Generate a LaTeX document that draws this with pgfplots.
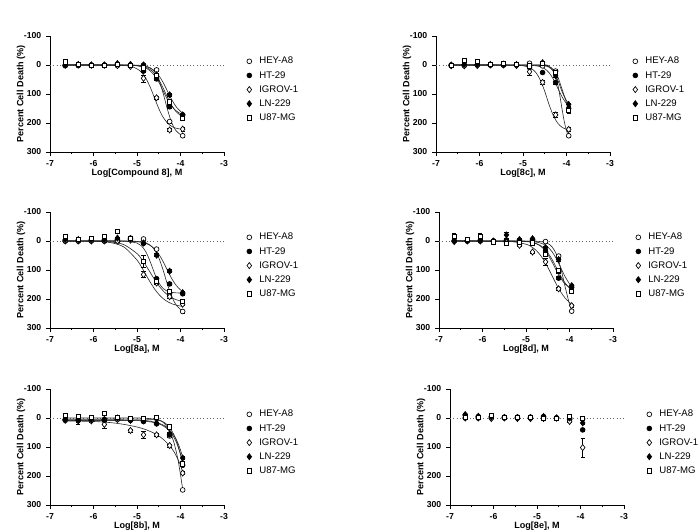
\documentclass[border=0pt]{standalone}
\usepackage{fontspec}
\setmainfont{Liberation Sans}
\usepackage{pgfplots}
\usepackage{pgfplotstable}
\pgfplotsset{compat=1.18}

% columns: a=HEY-A8, b=HT-29, c=IGROV-1, d=LN-229, e=U87-MG (value, error)
\pgfplotstableread{
x a ae b be c ce d de e ee
-6.65 2 3 2 3 0 3 0 3 -11 5
-6.35 0 3 2 3 0 3 -2 3 -2 3
-6.05 0 3 2 3 0 3 0 3 0 3
-5.75 0 3 2 3 0 3 0 3 0 3
-5.45 2 3 0 3 2 3 -5 5 -3 3
-5.15 2 3 0 3 5 3 -2 3 0 3
-4.85 0 3 21 5 46 12 0 3 10 5
-4.55 17 5 48 6 113 5 34 6 35 6
-4.25 195 6 144 6 224 6 103 5 127 8
-3.95 244 5 172 6 221 6 172 5 184 5
}\tEight
\pgfplotstableread{
x a ae b be c ce d de e ee
-6.65 2 3 0 3 3 3 0 3 0 3
-6.35 2 3 0 3 3 3 -2 3 -15 8
-6.05 0 3 0 3 2 3 -2 3 -13 8
-5.75 0 3 0 3 0 3 -2 3 -3 3
-5.45 0 3 0 3 0 3 -3 3 -6 3
-5.15 0 3 0 3 2 3 -2 3 -2 3
-4.85 -6 3 9 3 23 12 5 3 3 3
-4.55 3 3 26 4 60 8 -8 3 -6 3
-4.25 21 5 60 5 172 8 37 5 25 8
-3.95 244 5 150 6 222 6 136 5 157 8
}\tC
\pgfplotstableread{
x a ae b be c ce d de e ee
-6.65 0 3 0 3 0 3 -5 3 -15 8
-6.35 0 3 0 3 0 3 -5 3 -7 3
-6.05 0 3 -2 3 0 3 -5 3 -9 3
-5.75 0 3 0 3 0 3 -5 3 -15 3
-5.45 0 3 -5 3 0 3 -10 3 -33 5
-5.15 -5 3 -10 3 -3 3 -8 8 -10 3
-4.85 -7 3 8 4 116 10 7 4 69 20
-4.55 28 4 130 5 145 5 49 5 139 5
-4.25 180 5 148 5 192 5 104 5 174 5
-3.95 243 5 182 5 218 5 178 5 209 5
}\tA
\pgfplotstableread{
x a ae b be c ce d de e ee
-6.65 0 3 0 3 2 3 0 3 -17 8
-6.35 0 3 0 3 0 3 -2 3 -5 3
-6.05 0 3 -2 3 0 3 -3 3 -15 10
-5.75 0 3 0 3 2 3 0 3 3 3
-5.45 0 3 -3 3 5 3 -21 10 9 3
-5.15 10 3 -3 3 15 3 -5 3 5 3
-4.85 -3 3 -5 3 38 4 -8 3 6 3
-4.55 2 3 37 5 72 12 23 5 47 5
-4.25 52 5 128 5 165 5 64 5 102 8
-3.95 242 5 160 5 223 5 154 5 174 5
}\tD
\pgfplotstableread{
x a ae b be c ce d de e ee
-6.65 5 3 8 3 8 3 5 3 -10 3
-6.35 5 3 8 12 10 3 8 3 -5 3
-6.05 5 3 8 3 10 3 5 3 -2 3
-5.75 5 3 8 3 22 12 5 3 -15 3
-5.45 2 3 5 3 5 3 0 3 -2 3
-5.15 5 3 8 3 43 5 8 3 0 3
-4.85 10 3 12 3 58 12 10 3 0 3
-4.55 2 3 20 3 58 4 18 3 -2 3
-4.25 62 5 58 5 95 5 55 5 30 8
-3.95 248 5 163 5 190 5 138 5 158 5
}\tB
\pgfplotstableread{
x a ae b be c ce d de e ee
-6.65 0 3 -10 3 0 3 -12 3 -3 3
-6.35 0 3 -5 3 0 3 -6 3 -3 3
-6.05 0 3 -5 3 2 3 -3 3 -8 3
-5.75 0 3 -3 3 0 3 -2 3 -3 3
-5.45 0 3 -3 3 2 3 -2 3 -3 3
-5.15 0 3 -3 3 2 3 -2 3 -3 3
-4.85 0 3 -5 3 2 3 -5 3 2 5
-4.55 0 3 0 3 0 3 0 3 0 3
-4.25 5 3 0 3 12 3 0 3 -5 3
-3.95 3 3 41 4 102 32 17 4 2 3
}\tE

\pgfplotsset{
  panel/.style={
    scale only axis, width=130.5pt, height=87pt,
    xmin=-7, xmax=-3, ymin=-100, ymax=300, y dir=reverse,
    axis x line*=bottom, axis y line*=left,
    axis line style={line width=0.6pt, -},
    xtick={-7,-6,-5,-4,-3}, ytick={-100,0,100,200,300},
    minor x tick num=1,
    tick align=outside, major tick length=3pt, minor tick length=1.8pt,
    tick style={line width=0.6pt, black},
    /pgf/number format/assume math mode=true,
    ticklabel style={font=\bfseries\fontsize{6.5}{7}\selectfont},
    ylabel={Percent Cell Death (\%)},
    y label style={font=\bfseries\fontsize{6.8}{8}\selectfont, at={(axis description cs:-0.167,0.5)}, anchor=center},
    x label style={font=\bfseries\fontsize{6.8}{8}\selectfont, at={(axis description cs:0.5,0)}, anchor=center, yshift=-15.75pt},
    clip=false,
    legend cell align=left,
    legend style={draw=none, fill=none, at={(axis description cs:1.121,0.83)}, anchor=north west,
      inner sep=0pt, font=\fontsize{7.2}{8}\selectfont, row sep=2.6pt,
      nodes={inner sep=0.5pt, text height=5.5pt, text depth=1.5pt}},
    legend image code/.code={\draw[mark repeat=2, mark phase=2, #1] plot coordinates {(0pt,0pt) (3pt,0pt) (10pt,0pt)};
      \path[draw=none, fill=none] (0pt,0pt) rectangle (10pt,0.1pt);},
  },
  fit/.style={black!85, line width=0.45pt, smooth, forget plot},
  zero/.style={black!60, dotted, line width=0.5pt, forget plot},
  mk/.style={black, only marks, line width=0.5pt,
    /pgfplots/error bars/y dir=both, /pgfplots/error bars/y explicit,
    /pgfplots/error bars/error bar style={line width=0.4pt, black},
    /pgfplots/error bars/error mark options={rotate=90, mark size=1.6pt, line width=0.4pt, black}},
  sHEY/.style={mark=*, mark size=1.8pt, mark options={fill=white, draw=black}, mk},
  sHT/.style={mark=*, mark size=1.8pt, mark options={fill=black, draw=black}, mk},
  sIG/.style={mark=diamond*, mark size=2.3pt, mark options={fill=white, draw=black}, mk},
  sLN/.style={mark=diamond*, mark size=2.3pt, mark options={fill=black, draw=black}, mk},
  sU87/.style={mark=square*, mark size=1.6pt, mark options={fill=white, draw=black}, mk},
}

\newcommand{\pts}[1]{%
  \addplot[sHEY] table[x=x, y=a, y error=ae]{#1};
  \addplot[sHT]  table[x=x, y=b, y error=be]{#1};
  \addplot[sIG]  table[x=x, y=c, y error=ce]{#1};
  \addplot[sLN]  table[x=x, y=d, y error=de]{#1};
  \addplot[sU87] table[x=x, y=e, y error=ee]{#1};
  \legend{HEY-A8,HT-29,IGROV-1,LN-229,U87-MG}%
}

\begin{document}
\begin{tikzpicture}
\path[use as bounding box] (0,0) rectangle (525pt,399pt);

% ---------- Compound 8 (top left)
\begin{axis}[panel, at={(37.5pt,285pt)}, anchor=south west, xlabel={Log[Compound 8], M}]
\addplot[zero] coordinates {(-7,0) (-3,0)};
\addplot[fit] coordinates {(-6.65,0) (-5.3,0) (-5.0,0.6) (-4.9,1.6) (-4.8,3.9) (-4.7,9.6) (-4.6,22.7) (-4.5,50) (-4.4,97) (-4.3,153) (-4.2,200) (-4.1,227) (-4.0,240) (-3.95,244)};
\addplot[fit] coordinates {(-6.65,0) (-5.3,1.8) (-5.0,13.3) (-4.9,25.2) (-4.8,45) (-4.7,75) (-4.6,112.5) (-4.5,150) (-4.4,180) (-4.3,200) (-4.2,212) (-4.1,218) (-4.0,221) (-3.95,222)};
\addplot[fit] coordinates {(-6.65,0) (-5.3,0.4) (-5.0,2.8) (-4.9,5.5) (-4.8,10.5) (-4.7,20) (-4.6,36) (-4.5,59) (-4.4,89) (-4.3,119) (-4.2,142) (-4.1,158) (-4.0,167.5) (-3.95,170)};
\addplot[fit] coordinates {(-6.65,0) (-5.3,0.2) (-5.0,1.4) (-4.9,2.8) (-4.8,5.6) (-4.7,10.6) (-4.6,20) (-4.5,36) (-4.4,60) (-4.3,90) (-4.2,120) (-4.1,144) (-4.0,160) (-3.95,165)};
\addplot[fit] coordinates {(-6.65,0) (-5.3,0.3) (-5.0,2.1) (-4.9,4.2) (-4.8,8.1) (-4.7,15.5) (-4.6,28.7) (-4.5,50) (-4.4,79) (-4.3,111) (-4.2,140) (-4.1,161) (-4.0,174) (-3.95,179)};
\pts{\tEight}
\end{axis}

% ---------- 8c (top right)
\begin{axis}[panel, at={(327pt,285pt)}, anchor=south west, xlabel={Log[8c], M}]
\addplot[zero] coordinates {(-7,0) (-3,0)};
\addplot[fit] coordinates {(-6.65,0) (-4.6,0) (-4.5,1.4) (-4.4,5.5) (-4.3,21) (-4.25,38) (-4.2,67) (-4.15,108) (-4.1,154) (-4.05,196) (-4.0,227) (-3.95,246)};
\addplot[fit] coordinates {(-6.65,0) (-5.3,0.2) (-5.0,2.7) (-4.9,5.9) (-4.8,12.8) (-4.7,26.8) (-4.6,52.5) (-4.5,91) (-4.4,137) (-4.3,175.5) (-4.2,201) (-4.1,215) (-4.0,222) (-3.95,224)};
\addplot[fit] coordinates {(-6.65,0) (-5.0,0.3) (-4.9,0.6) (-4.8,1.3) (-4.7,2.8) (-4.6,6.1) (-4.5,13) (-4.4,26.6) (-4.3,49.4) (-4.2,80) (-4.1,110.6) (-4.0,133.4) (-3.95,141)};
\addplot[fit] coordinates {(-6.65,0) (-4.6,0.8) (-4.5,2.5) (-4.4,7.7) (-4.3,21.9) (-4.2,52) (-4.1,92.8) (-4.0,123) (-3.95,132)};
\addplot[fit] coordinates {(-6.65,0) (-4.6,0.5) (-4.5,1.7) (-4.4,5.3) (-4.3,15.5) (-4.2,40.8) (-4.1,85) (-4.0,129) (-3.95,144)};
\pts{\tC}
\end{axis}

% ---------- 8a (middle left)
\begin{axis}[panel, at={(37.5pt,153pt)}, anchor=south west, xlabel={Log[8a], M}]
\addplot[zero] coordinates {(-7,0) (-3,0)};
\addplot[fit] coordinates {(-6.65,0) (-5.3,0.1) (-5.0,1.3) (-4.9,3) (-4.8,6.5) (-4.7,14) (-4.6,29.5) (-4.5,57.5) (-4.4,100) (-4.3,150) (-4.2,192.5) (-4.1,220.5) (-4.0,236) (-3.95,240.5)};
\addplot[fit] coordinates {(-6.65,0) (-5.9,1.4) (-5.6,5.6) (-5.3,20.9) (-5.0,65.6) (-4.9,89) (-4.8,115) (-4.7,141) (-4.6,164.5) (-4.5,183.8) (-4.4,198.5) (-4.3,209) (-4.2,216.4) (-4.1,221) (-4.0,224.4) (-3.95,225.6)};
\addplot[fit] coordinates {(-6.65,0) (-5.9,0.9) (-5.6,3.4) (-5.3,12.7) (-5.0,43.2) (-4.9,61.3) (-4.8,83.2) (-4.7,107.5) (-4.6,131.8) (-4.5,153.7) (-4.4,171.8) (-4.3,185.5) (-4.2,195.4) (-4.1,202.3) (-4.0,206.8) (-3.95,208.3)};
\addplot[fit] coordinates {(-6.65,0) (-5.6,0) (-5.3,0.45) (-5.0,6.9) (-4.9,16.4) (-4.8,36.2) (-4.7,69.7) (-4.6,110.3) (-4.5,143.8) (-4.4,163.6) (-4.3,173.2) (-4.2,177.2) (-4.1,178.8) (-4.0,179.5) (-3.95,179.7)};
\addplot[fit] coordinates {(-6.65,0) (-5.3,0.3) (-5.0,2.3) (-4.9,4.4) (-4.8,8.2) (-4.7,15.1) (-4.6,26.8) (-4.5,45.4) (-4.4,71) (-4.3,101) (-4.2,130) (-4.1,153) (-4.0,168.5) (-3.95,174)};
\pts{\tA}
\end{axis}

% ---------- 8d (middle right)
\begin{axis}[panel, at={(329.25pt,153pt)}, anchor=south west, xlabel={Log[8d], M}]
\addplot[zero] coordinates {(-7,0) (-3,0)};
\addplot[fit] coordinates {(-6.65,0) (-4.9,0.2) (-4.8,0.55) (-4.7,1.4) (-4.6,3.5) (-4.5,8.5) (-4.4,20.4) (-4.3,46.4) (-4.2,93.9) (-4.1,158.3) (-4.0,217.9) (-3.95,239.8)};
\addplot[fit] coordinates {(-6.65,0) (-5.6,0.55) (-5.3,2.5) (-5.0,11) (-4.9,17.7) (-4.8,27.9) (-4.7,43.1) (-4.6,64) (-4.5,90.3) (-4.4,120) (-4.3,149.8) (-4.2,176) (-4.1,196.9) (-4.0,212) (-3.95,217.6)};
\addplot[fit] coordinates {(-6.65,0) (-5.3,0.1) (-5.0,1.9) (-4.9,3.8) (-4.8,7.5) (-4.7,14.3) (-4.6,26.4) (-4.5,45.9) (-4.4,72.6) (-4.3,102.4) (-4.2,129.2) (-4.1,148.6) (-4.0,160.7) (-3.95,164.7)};
\addplot[fit] coordinates {(-6.65,0) (-5.0,0.7) (-4.9,1.5) (-4.8,2.9) (-4.7,5.7) (-4.6,10.9) (-4.5,20.7) (-4.4,37.2) (-4.3,61.8) (-4.2,92.5) (-4.1,123.2) (-4.0,147.8) (-3.95,157)};
\addplot[fit] coordinates {(-6.65,0) (-5.0,2) (-4.9,3.8) (-4.8,7.1) (-4.7,13) (-4.6,23.4) (-4.5,40) (-4.4,63.7) (-4.3,92.5) (-4.2,121.4) (-4.1,145) (-4.0,161.7) (-3.95,167.4)};
\pts{\tD}
\end{axis}

% ---------- 8b (bottom left)
\begin{axis}[panel, at={(37.5pt,20.25pt)}, anchor=south west, xlabel={Log[8b], M}]
\addplot[zero] coordinates {(-7,0) (-3,0)};
\addplot[fit] coordinates {(-6.65,8) (-5.5,8) (-5.0,7) (-4.7,6) (-4.55,6) (-4.45,10) (-4.35,22) (-4.25,45) (-4.15,85) (-4.05,150) (-3.95,245)};
\addplot[fit] coordinates {(-6.65,8) (-5.5,8) (-5.0,9) (-4.8,11) (-4.6,16) (-4.5,20) (-4.4,27) (-4.3,38) (-4.2,55) (-4.1,82) (-4.0,125) (-3.95,160)};
\addplot[fit] coordinates {(-6.65,6) (-5.5,6) (-5.0,7) (-4.8,9) (-4.6,14) (-4.5,18) (-4.4,24) (-4.3,34) (-4.2,50) (-4.1,73) (-4.0,110) (-3.95,138)};
\addplot[fit] coordinates {(-6.65,0) (-5.5,0) (-5.0,0) (-4.8,1) (-4.6,4) (-4.5,7) (-4.4,13) (-4.3,24) (-4.2,44) (-4.1,75) (-4.0,125) (-3.95,158)};
\addplot[fit] coordinates {(-6.65,10) (-6.0,12) (-5.6,16) (-5.3,22) (-5.0,31) (-4.8,40) (-4.6,53) (-4.4,73) (-4.2,105) (-4.1,130) (-4.0,163) (-3.95,188)};
\pts{\tB}
\end{axis}

% ---------- 8e (bottom right)
\begin{axis}[panel, at={(337.5pt,20.25pt)}, anchor=south west, xlabel={Log[8e], M}]
\addplot[zero] coordinates {(-7,0) (-3,0)};
\pts{\tE}
\end{axis}
\end{tikzpicture}
\end{document}
